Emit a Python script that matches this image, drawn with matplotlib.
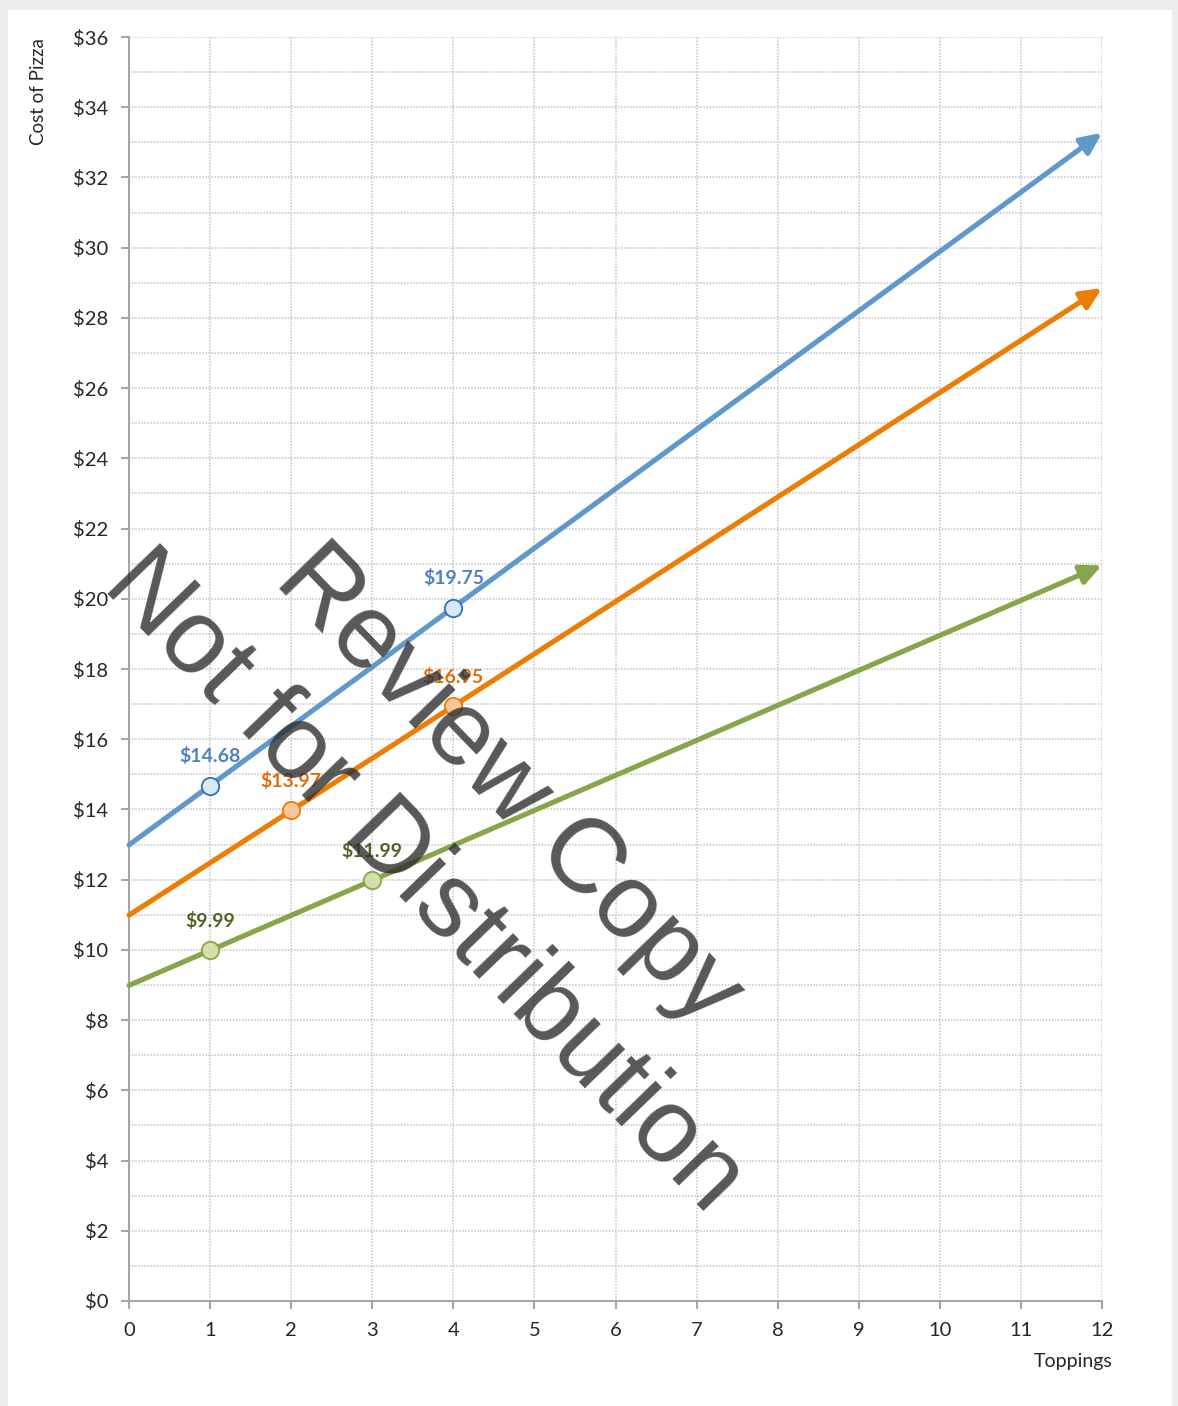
import matplotlib
matplotlib.use("Agg")
import matplotlib.pyplot as plt
from matplotlib.patches import Rectangle
from matplotlib.ticker import MultipleLocator, FuncFormatter

# ---- data ----
line_x = [0, 12]
blue_y = [12.99, 33.27]
orange_y = [10.99, 28.85]
green_y = [8.99, 20.95]

blue_pts_x = [1, 4]
blue_pts_y = [14.68, 19.75]
orange_pts_x = [2, 4]
orange_pts_y = [13.97, 16.95]
green_pts_x = [1, 3]
green_pts_y = [9.99, 11.99]

x_ticks = list(range(0, 13))
y_ticks = list(range(0, 37, 2))

FONT = ["Lato", "DejaVu Sans"]
plt.rcParams['font.family'] = FONT

fig = plt.figure(figsize=(11.78, 14.06), dpi=100)
fig.patch.set_facecolor("#ececec")
W, H = 1178, 1406
fig.patches.append(Rectangle((8 / W, 0), (1172 - 8) / W, 1 - 10 / H,
                             transform=fig.transFigure, facecolor="white",
                             edgecolor="none", zorder=-5))

ax = fig.add_axes([129 / W, 1 - 1301 / H, (1102 - 129) / W, (1301 - 37) / H])
ax.set_zorder(1)
ax.set_facecolor("white")
ax.set_xlim(0, 12)
ax.set_ylim(0, 36)
ax.set_xticks(x_ticks)
ax.set_yticks(y_ticks)
ax.yaxis.set_minor_locator(MultipleLocator(1))
ax.yaxis.set_major_formatter(FuncFormatter(lambda v, p: f"${int(v)}"))

gcol = "#c4c4c4"
ax.grid(True, which="major", axis="both", color=gcol, linestyle=(0, (1, 1)), linewidth=1.1)
ax.grid(True, which="minor", axis="y", color=gcol, linestyle=(0, (1, 1)), linewidth=1.1)
ax.set_axisbelow(True)

for s in ["top", "right"]:
    ax.spines[s].set_visible(False)
for s in ["left", "bottom"]:
    ax.spines[s].set_color("#a6a6a6")
    ax.spines[s].set_linewidth(1.5)
ax.tick_params(axis="both", which="major", direction="out", length=6, width=1.5,
               color="#a6a6a6", labelsize=14.5, labelcolor="#262626")
ax.tick_params(axis="y", which="major", pad=9)
ax.tick_params(axis="y", which="minor", length=0)
ax.tick_params(axis="x", pad=9)

series = [
    (blue_y, blue_pts_x, blue_pts_y, "#6198cc", "#d7e8f6", "#2f74b5", "#4f81bd"),
    (orange_y, orange_pts_x, orange_pts_y, "#ec7d05", "#f9c69a", "#ec7d05", "#e36c09"),
    (green_y, green_pts_x, green_pts_y, "#87a64b", "#d2e0ab", "#87a64b", "#4f6228"),
]

for ly, px, py, lc, mf, me, tc in series:
    ax.annotate("", xy=(line_x[1], ly[1]), xytext=(line_x[0], ly[0]),
                arrowprops=dict(arrowstyle="-|>,head_length=0.9,head_width=0.42",
                                lw=3.7, color=lc, shrinkA=0, shrinkB=0,
                                mutation_scale=14),
                annotation_clip=False, zorder=3)
    ax.plot(px, py, linestyle="none", marker="o", markersize=12.5,
            markerfacecolor=mf, markeredgecolor=me, markeredgewidth=1.3, zorder=4)
    for xx, yy in zip(px, py):
        ax.annotate(f"${yy:.2f}", (xx, yy), xytext=(0, 21), textcoords="offset points",
                    ha="center", va="center", fontsize=14, fontweight="bold",
                    color=tc, zorder=5)

fig.text(38 / W, 1 - 38 / H, "Cost of Pizza", rotation=90, ha="center", va="top",
         fontsize=13.5, color="#262626")
fig.text(1113 / W, 1 - 1362 / H, "Toppings", ha="right", va="center",
         fontsize=14, color="#262626")

# watermark
wm = dict(family=["Liberation Sans", "DejaVu Sans"], fontsize=76, color="#2e2e2e",
          alpha=0.8, rotation=-46, ha="center", va="center",
          rotation_mode="anchor", zorder=10)
fig.text(424 / W, 1 - 882 / H, "Not for Distribution", **wm)
fig.text(508 / W, 1 - 786 / H, "Review Copy", **wm)

fig.savefig("out.png", dpi=100, facecolor=fig.get_facecolor())
